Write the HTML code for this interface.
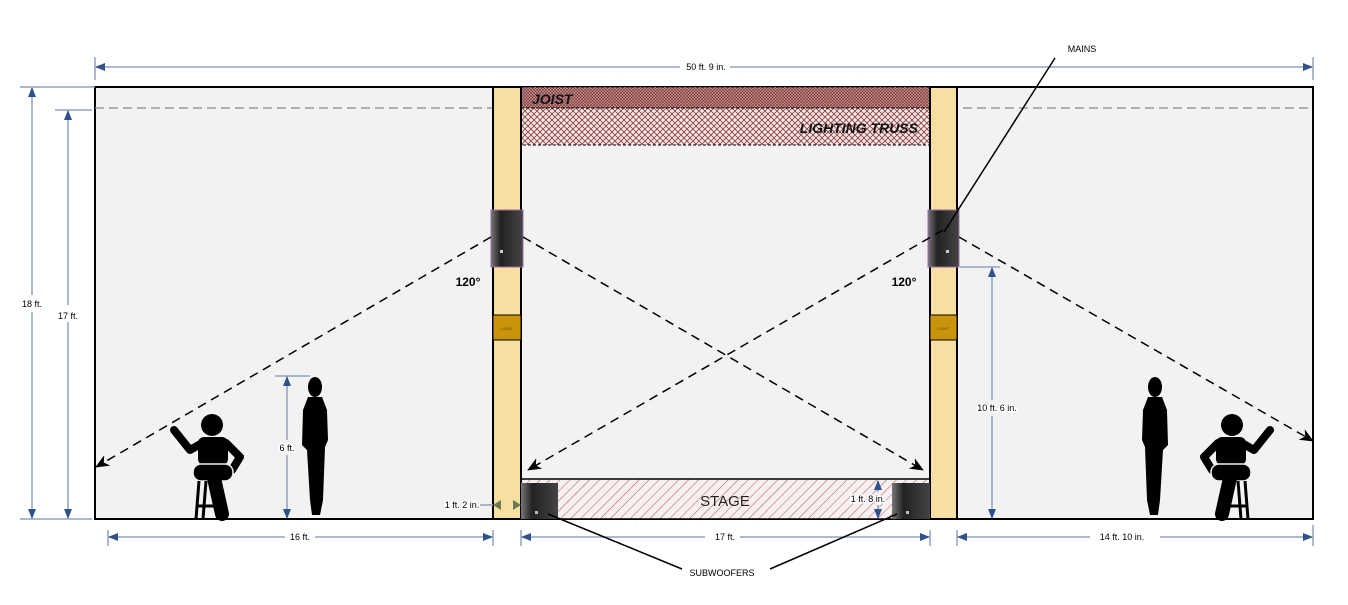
<!DOCTYPE html>
<html><head><meta charset="utf-8"><style>
html,body{margin:0;padding:0;background:#fff;}
svg{display:block;font-family:"Liberation Sans",sans-serif;}
</style></head><body>
<svg width="1348" height="605" viewBox="0 0 1348 605" xmlns="http://www.w3.org/2000/svg">
<defs>
<pattern id="xh" width="6" height="6" patternUnits="userSpaceOnUse">
<rect width="6" height="6" fill="#f2e8e8"/>
<path d="M0,0L6,6M6,0L0,6" stroke="#8b3a3a" stroke-width="0.8"/>
</pattern>
<pattern id="jh" width="3" height="3" patternUnits="userSpaceOnUse">
<rect width="3" height="3" fill="#c49a9a"/>
<path d="M0,0L3,3M3,0L0,3" stroke="#7a2a2a" stroke-width="0.6"/>
</pattern>
<pattern id="sh" width="7" height="7" patternUnits="userSpaceOnUse" patternTransform="rotate(45)">
<rect width="7" height="7" fill="#f6f0f0"/>
<line x1="0" y1="0" x2="0" y2="7" stroke="#c0504d" stroke-width="1"/>
</pattern>
<linearGradient id="spk" x1="0" x2="1">
<stop offset="0" stop-color="#777"/><stop offset="0.3" stop-color="#222"/><stop offset="1" stop-color="#444"/>
</linearGradient>
<marker id="ab" markerWidth="10" markerHeight="10" refX="9" refY="5" orient="auto" markerUnits="userSpaceOnUse">
<path d="M0,1 L10,5 L0,9 Z" fill="#2f528f"/>
</marker>
<marker id="ak" markerWidth="14" markerHeight="14" refX="13" refY="7" orient="auto" markerUnits="userSpaceOnUse">
<path d="M0,1 L14,7 L0,13 L4,7 Z" fill="#000"/>
</marker>
<g id="sit">
<circle cx="212" cy="425" r="11" fill="#000"/>
<path d="M174,430 L190,450 L204,442" stroke="#000" stroke-width="8" fill="none" stroke-linecap="round" stroke-linejoin="round"/>
<rect x="198" y="437" width="30" height="28" rx="6" fill="#000"/>
<path d="M226,443 L240,457 L232,470" stroke="#000" stroke-width="8" fill="none" stroke-linecap="round" stroke-linejoin="round"/>
<rect x="193" y="464" width="40" height="17" rx="8" fill="#000" stroke="#f2f2f2" stroke-width="1.5"/>
<path d="M214,478 L222,514" stroke="#000" stroke-width="14" stroke-linecap="round"/>
<path d="M199,481 L196,519 M206,481 L203,519 M198,506 L214,506" stroke="#000" stroke-width="3"/>
</g>
<g id="wom">
<ellipse cx="315" cy="387" rx="7" ry="10" fill="#000"/>
<path d="M308,397 L322,397 L327,410 L328,440 L325,447 L323,500 L320,515 L312,515 L310,500 L307,450 L302,445 L303,410 Z" fill="#000"/>
</g>
</defs>

<!-- main wall -->
<rect x="95" y="87" width="1218" height="432" fill="#f2f2f2" stroke="#000" stroke-width="2"/>
<line x1="95" y1="108" x2="1313" y2="108" stroke="#888" stroke-width="1.2" stroke-dasharray="9,5"/>
<!-- joist & truss -->
<rect x="521" y="87" width="409" height="21" fill="url(#jh)" stroke="#000" stroke-dasharray="3,2"/>
<rect x="521" y="108" width="409" height="37" fill="url(#xh)" stroke="#000" stroke-dasharray="3,2"/>
<text x="532" y="104" font-size="14" font-weight="bold" font-style="italic" fill="#111">JOIST</text>
<text x="918" y="133" font-size="14" font-weight="bold" font-style="italic" fill="#111" text-anchor="end">LIGHTING TRUSS</text>
<!-- stage -->
<rect x="521" y="479" width="409" height="40" fill="url(#sh)" stroke="#000" stroke-width="1.5"/>
<text x="725" y="506" font-size="15" text-anchor="middle" fill="#222">STAGE</text>
<!-- columns -->
<rect x="493" y="87" width="28" height="432" fill="#f6dfa0" stroke="#000" stroke-width="2"/>
<rect x="930" y="87" width="27" height="432" fill="#f6dfa0" stroke="#000" stroke-width="2"/>
<rect x="493" y="315" width="28" height="25" fill="#c9930a" stroke="#000"/>
<rect x="930" y="315" width="27" height="25" fill="#c9930a" stroke="#000"/>
<text x="507" y="330" font-size="4" text-anchor="middle" fill="#6a4a00">LIGHT</text>
<text x="943" y="330" font-size="4" text-anchor="middle" fill="#6a4a00">LIGHT</text>
<!-- speakers -->
<rect x="491" y="210" width="32" height="57" fill="url(#spk)" stroke="#9a6aa8"/>
<rect x="928" y="210" width="31" height="57" fill="url(#spk)" stroke="#9a6aa8"/>
<rect x="500" y="250" width="3" height="3" fill="#ccc"/>
<rect x="946" y="250" width="3" height="3" fill="#ccc"/>
<rect x="521" y="483" width="37" height="36" fill="url(#spk)"/>
<rect x="892" y="483" width="38" height="36" fill="url(#spk)"/>
<rect x="535" y="511" width="3" height="3" fill="#bbb"/>
<rect x="906" y="511" width="3" height="3" fill="#bbb"/>
<!-- coverage -->
<g stroke="#000" stroke-width="1.5" stroke-dasharray="9,6" fill="none">
<line x1="491" y1="237" x2="96" y2="467" marker-end="url(#ak)"/>
<line x1="523" y1="237" x2="923" y2="470" marker-end="url(#ak)"/>
<line x1="943" y1="230" x2="528" y2="470" marker-end="url(#ak)"/>
<line x1="959" y1="237" x2="1313" y2="441" marker-end="url(#ak)"/>
</g>
<text x="468" y="286" font-size="12" font-weight="bold" text-anchor="middle">120°</text>
<text x="904" y="286" font-size="12" font-weight="bold" text-anchor="middle">120°</text>
<!-- people -->
<use href="#sit"/>
<use href="#sit" transform="translate(1444,0) scale(-1,1)"/>
<use href="#wom"/>
<use href="#wom" transform="translate(1470,0) scale(-1,1)"/>
<!-- dimensions -->
<g stroke="#8fa3bd" stroke-width="1.5" fill="none">
<line x1="95" y1="57" x2="95" y2="80"/><line x1="1313" y1="57" x2="1313" y2="80"/>
<line x1="680" y1="67" x2="96" y2="67" marker-end="url(#ab)"/>
<line x1="730" y1="67" x2="1312" y2="67" marker-end="url(#ab)"/>
<line x1="20" y1="87" x2="95" y2="87"/><line x1="20" y1="519" x2="92" y2="519"/>
<line x1="55" y1="110" x2="92" y2="110"/>
<line x1="32" y1="295" x2="32" y2="88" marker-end="url(#ab)"/>
<line x1="32" y1="312" x2="32" y2="518" marker-end="url(#ab)"/>
<line x1="68" y1="305" x2="68" y2="111" marker-end="url(#ab)"/>
<line x1="68" y1="322" x2="68" y2="518" marker-end="url(#ab)"/>
<line x1="108" y1="530" x2="108" y2="546"/><line x1="493" y1="530" x2="493" y2="546"/>
<line x1="521" y1="530" x2="521" y2="546"/><line x1="930" y1="530" x2="930" y2="546"/>
<line x1="957" y1="530" x2="957" y2="546"/><line x1="1313" y1="525" x2="1313" y2="546"/>
<line x1="285" y1="537" x2="109" y2="537" marker-end="url(#ab)"/>
<line x1="315" y1="537" x2="492" y2="537" marker-end="url(#ab)"/>
<line x1="705" y1="537" x2="522" y2="537" marker-end="url(#ab)"/>
<line x1="740" y1="537" x2="929" y2="537" marker-end="url(#ab)"/>
<line x1="1090" y1="537" x2="958" y2="537" marker-end="url(#ab)"/>
<line x1="1160" y1="537" x2="1312" y2="537" marker-end="url(#ab)"/>
<line x1="275" y1="376" x2="310" y2="376"/>
<line x1="287" y1="440" x2="287" y2="377" marker-end="url(#ab)"/>
<line x1="287" y1="455" x2="287" y2="518" marker-end="url(#ab)"/>
<line x1="960" y1="267" x2="1000" y2="267"/>
<line x1="992" y1="400" x2="992" y2="268" marker-end="url(#ab)"/>
<line x1="992" y1="416" x2="992" y2="518" marker-end="url(#ab)"/>
<line x1="878" y1="492" x2="878" y2="481" marker-end="url(#ab)"/>
<line x1="878" y1="505" x2="878" y2="518" marker-end="url(#ab)"/>
<line x1="480" y1="505" x2="493" y2="505"/>
</g>
<path d="M493,505 l8,-5 v10 z M521,505 l-8,-5 v10 z" fill="#6b7a50"/>
<g font-size="9" fill="#000" text-anchor="middle">
<text x="706" y="70">50 ft. 9 in.</text>
<text x="32" y="307" style="paint-order:stroke" stroke="#fff" stroke-width="3">18 ft.</text>
<text x="68" y="319" style="paint-order:stroke" stroke="#fff" stroke-width="3">17 ft.</text>
<text x="300" y="540">16 ft.</text>
<text x="725" y="540">17 ft.</text>
<text x="1122" y="540">14 ft. 10 in.</text>
<text x="287" y="451" style="paint-order:stroke" stroke="#fff" stroke-width="3">6 ft.</text>
<text x="997" y="411" style="paint-order:stroke" stroke="#fff" stroke-width="3">10 ft. 6 in.</text>
<text x="462" y="508" style="paint-order:stroke" stroke="#fff" stroke-width="3">1 ft. 2 in.</text>
<text x="868" y="502" style="paint-order:stroke" stroke="#fff" stroke-width="3">1 ft. 8 in.</text>
<text x="1082" y="52">MAINS</text>
<text x="722" y="576">SUBWOOFERS</text>
</g>
<g stroke="#000" stroke-width="1.5">
<line x1="1055" y1="58" x2="944" y2="232"/>
<line x1="548" y1="514" x2="682" y2="569"/>
<line x1="897" y1="514" x2="770" y2="569"/>
</g>
</svg>
</body></html>
